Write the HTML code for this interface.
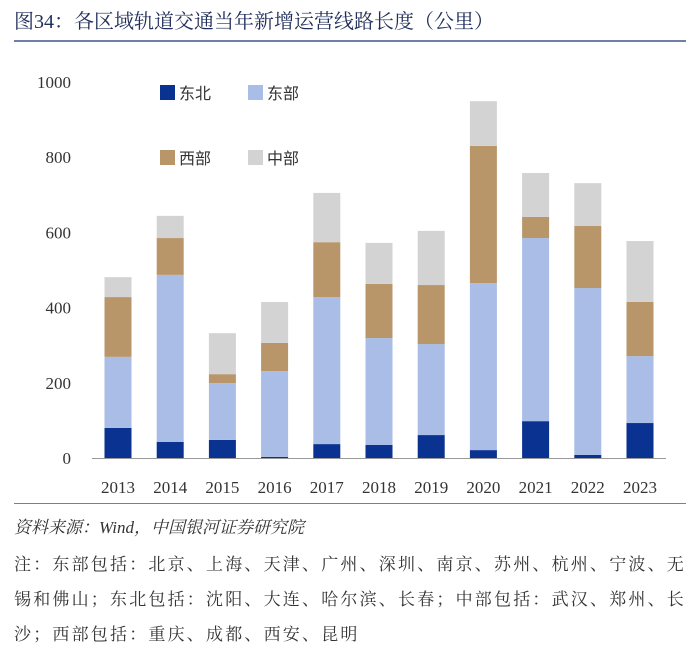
<!DOCTYPE html>
<html><head><meta charset="utf-8"><style>
body{margin:0;background:#fff;width:700px;height:666px;overflow:hidden;position:relative;font-family:"Liberation Serif","Noto Serif CJK SC",serif;}
.t{position:absolute;white-space:nowrap;}
.fn{position:absolute;left:14px;font-size:17px;letter-spacing:2.2px;color:#333;white-space:nowrap;}
</style></head><body>
<div class="t" style="left:14px;top:5px;font-size:20px;color:#1f2d5a;">图34：各区域轨道交通当年新增运营线路长度（公里）</div>
<div style="position:absolute;left:14px;top:40px;width:672px;height:2px;background:#6f7fa8;"></div>
<svg id="chart" width="700" height="505" style="position:absolute;left:0;top:0;"></svg>
<div style="position:absolute;left:14px;top:503px;width:672px;height:1px;background:#6f7fa8;"></div>
<div class="t" style="left:14px;top:513px;font-size:17px;color:#333;font-style:italic;">资料来源：Wind，中国银河证券研究院</div>
<div class="fn" style="top:550px;">注：东部包括：北京、上海、天津、广州、深圳、南京、苏州、杭州、宁波、无</div>
<div class="fn" style="top:585px;">锡和佛山；东北包括：沈阳、大连、哈尔滨、长春；中部包括：武汉、郑州、长</div>
<div class="fn" style="top:620px;">沙；西部包括：重庆、成都、西安、昆明</div>
<script>
const years=["2013","2014","2015","2016","2017","2018","2019","2020","2021","2022","2023"];
const dongbei=[80,43,48,3,37,35,61,21,98,8,93];
const dongbu=[189,444,151,228,391,284,242,444,487,444,178];
const xibu=[159,98,24,75,146,144,157,365,56,165,144];
const zhongbu=[53,59,109,109,131,109,144,119,117,114,162];
const yTicks=[0,200,400,600,800,1000];
const names=["东北","东部","西部","中部"];
const colors=["#0a3291","#a9bde6","#b8966a","#d3d3d3"];
const series=[dongbei,dongbu,xibu,zhongbu];
const svg=document.getElementById('chart');
const NS='http://www.w3.org/2000/svg';
const y0=458,y1=82,x0=92,step=52.2;
const y=v=>y0-(v/1000)*(y0-y1);
const xc=i=>x0+26+i*step;
function mk(tag,attrs){const e=document.createElementNS(NS,tag);for(const k in attrs)e.setAttribute(k,attrs[k]);svg.appendChild(e);return e;}
yTicks.forEach(t=>{const e=mk('text',{x:71,y:y(t)+6,'text-anchor':'end','font-size':17,fill:'#333'});e.textContent=t;

});
years.forEach((yr,i)=>{let acc=0;
series.forEach((s,k)=>{const r=mk('rect',{x:xc(i)-13.5,y:y(acc+s[i]),width:27,height:y(acc)-y(acc+s[i]),fill:colors[k]});


acc+=s[i];});
const e=mk('text',{x:xc(i),y:493,'text-anchor':'middle','font-size':17,fill:'#333'});e.textContent=yr;

});
const ax=mk('line',{x1:x0,x2:666,y1:y0+0.5,y2:y0+0.5,stroke:'#999','stroke-width':1});


const lp=[[160,93],[248,93],[160,158],[248,158]];
names.forEach((n,k)=>{const r=mk('rect',{x:lp[k][0],y:lp[k][1]-8,width:15,height:15,fill:colors[k]});


const t=mk('text',{x:lp[k][0]+19,y:lp[k][1]+6,'font-size':16,fill:'#333','font-family':'Liberation Sans, Noto Sans CJK SC, sans-serif'});t.textContent=n;

});
</script>
</body></html>
